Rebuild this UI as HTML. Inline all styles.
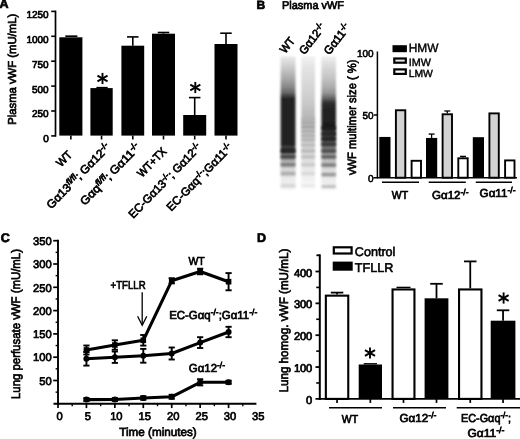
<!DOCTYPE html>
<html><head><meta charset="utf-8"><title>Figure</title>
<style>
html,body{margin:0;padding:0;background:#fff;}
body{width:520px;height:439px;overflow:hidden;font-family:"Liberation Sans",sans-serif;}
svg{display:block;font-family:"Liberation Sans",sans-serif;filter:grayscale(1) blur(0.3px);}
text{fill:#000;text-rendering:geometricPrecision;}
</style></head><body>
<svg width="520" height="439" viewBox="0 0 520 439">
<defs>
<filter id="bl" x="-20%" y="-20%" width="140%" height="140%"><feGaussianBlur stdDeviation="1.1 1.0"/></filter>
<filter id="bl2" x="-20%" y="-5%" width="140%" height="110%"><feGaussianBlur stdDeviation="1.1 0.6"/></filter>
</defs>
<rect width="520" height="439" fill="#fff"/>

<g id="panelA">
<text x="-0.6" y="8.3" font-size="12.5" text-anchor="start" font-weight="bold" stroke="#000" stroke-width="0.7">A</text>
<line x1="55.50" y1="10.60" x2="55.50" y2="136.70" stroke="#000" stroke-width="1.7" stroke-linecap="butt"/>
<line x1="51.20" y1="135.90" x2="55.50" y2="135.90" stroke="#000" stroke-width="1.6" stroke-linecap="butt"/>
<text x="48.7" y="142.3" font-size="10" text-anchor="end" font-weight="normal" stroke="#000" stroke-width="0.7">0</text>
<line x1="51.20" y1="111.00" x2="55.50" y2="111.00" stroke="#000" stroke-width="1.6" stroke-linecap="butt"/>
<text x="48.7" y="117.4" font-size="10" text-anchor="end" font-weight="normal" stroke="#000" stroke-width="0.7">250</text>
<line x1="51.20" y1="86.10" x2="55.50" y2="86.10" stroke="#000" stroke-width="1.6" stroke-linecap="butt"/>
<text x="48.7" y="92.50000000000001" font-size="10" text-anchor="end" font-weight="normal" stroke="#000" stroke-width="0.7">500</text>
<line x1="51.20" y1="61.20" x2="55.50" y2="61.20" stroke="#000" stroke-width="1.6" stroke-linecap="butt"/>
<text x="48.7" y="67.60000000000002" font-size="10" text-anchor="end" font-weight="normal" stroke="#000" stroke-width="0.7">750</text>
<line x1="51.20" y1="36.30" x2="55.50" y2="36.30" stroke="#000" stroke-width="1.6" stroke-linecap="butt"/>
<text x="48.7" y="42.70000000000001" font-size="10" text-anchor="end" font-weight="normal" stroke="#000" stroke-width="0.7">1000</text>
<line x1="51.20" y1="11.40" x2="55.50" y2="11.40" stroke="#000" stroke-width="1.6" stroke-linecap="butt"/>
<text x="48.7" y="17.800000000000004" font-size="10" text-anchor="end" font-weight="normal" stroke="#000" stroke-width="0.7">1250</text>
<text transform="translate(16.2,69.3) rotate(-90)" font-size="11.5" text-anchor="middle" font-weight="normal" textLength="111" lengthAdjust="spacingAndGlyphs" stroke="#000" stroke-width="0.7">Plasma vWF  (mU/mL)</text>
<line x1="65.30" y1="36.20" x2="77.40" y2="36.20" stroke="#000" stroke-width="1.7" stroke-linecap="butt"/>
<rect x="59.30" y="37.30" width="23.10" height="98.30" fill="#000"/>
<line x1="70.85" y1="135.60" x2="70.85" y2="139.50" stroke="#000" stroke-width="1.6" stroke-linecap="butt"/>
<line x1="96.40" y1="87.70" x2="107.70" y2="87.70" stroke="#000" stroke-width="1.7" stroke-linecap="butt"/>
<rect x="90.40" y="88.10" width="22.30" height="47.50" fill="#000"/>
<line x1="101.55" y1="135.60" x2="101.55" y2="139.50" stroke="#000" stroke-width="1.6" stroke-linecap="butt"/>
<line x1="132.80" y1="45.70" x2="132.80" y2="36.90" stroke="#000" stroke-width="1.6" stroke-linecap="butt"/>
<line x1="127.05" y1="36.90" x2="138.55" y2="36.90" stroke="#000" stroke-width="1.6" stroke-linecap="butt"/>
<rect x="121.40" y="45.70" width="22.80" height="89.90" fill="#000"/>
<line x1="132.80" y1="135.60" x2="132.80" y2="139.50" stroke="#000" stroke-width="1.6" stroke-linecap="butt"/>
<line x1="163.50" y1="33.70" x2="163.50" y2="32.50" stroke="#000" stroke-width="1.6" stroke-linecap="butt"/>
<line x1="157.75" y1="32.50" x2="169.25" y2="32.50" stroke="#000" stroke-width="1.6" stroke-linecap="butt"/>
<rect x="152.00" y="33.70" width="23.00" height="101.90" fill="#000"/>
<line x1="163.50" y1="135.60" x2="163.50" y2="139.50" stroke="#000" stroke-width="1.6" stroke-linecap="butt"/>
<line x1="194.70" y1="115.00" x2="194.70" y2="97.60" stroke="#000" stroke-width="1.6" stroke-linecap="butt"/>
<line x1="188.95" y1="97.60" x2="200.45" y2="97.60" stroke="#000" stroke-width="1.6" stroke-linecap="butt"/>
<rect x="183.20" y="115.00" width="23.00" height="20.60" fill="#000"/>
<line x1="194.70" y1="135.60" x2="194.70" y2="139.50" stroke="#000" stroke-width="1.6" stroke-linecap="butt"/>
<line x1="226.00" y1="44.00" x2="226.00" y2="33.20" stroke="#000" stroke-width="1.6" stroke-linecap="butt"/>
<line x1="220.25" y1="33.20" x2="231.75" y2="33.20" stroke="#000" stroke-width="1.6" stroke-linecap="butt"/>
<rect x="214.50" y="44.00" width="23.00" height="91.60" fill="#000"/>
<line x1="226.00" y1="135.60" x2="226.00" y2="139.50" stroke="#000" stroke-width="1.6" stroke-linecap="butt"/>
<line x1="102.50" y1="72.90" x2="102.50" y2="84.10" stroke="#000" stroke-width="1.9" stroke-linecap="butt"/>
<line x1="97.46" y1="75.59" x2="107.54" y2="81.41" stroke="#000" stroke-width="1.9" stroke-linecap="butt"/>
<line x1="107.54" y1="75.59" x2="97.46" y2="81.41" stroke="#000" stroke-width="1.9" stroke-linecap="butt"/>
<line x1="195.30" y1="81.90" x2="195.30" y2="93.10" stroke="#000" stroke-width="1.9" stroke-linecap="butt"/>
<line x1="190.26" y1="84.59" x2="200.34" y2="90.41" stroke="#000" stroke-width="1.9" stroke-linecap="butt"/>
<line x1="200.34" y1="84.59" x2="190.26" y2="90.41" stroke="#000" stroke-width="1.9" stroke-linecap="butt"/>
<text transform="translate(61.1,167.6) rotate(-45.7)" font-size="11.5" text-anchor="start" font-weight="normal" textLength="16.9" lengthAdjust="spacingAndGlyphs" stroke="#000" stroke-width="0.7">WT</text>
<text transform="translate(51.14,209.55) rotate(-45.7)" font-size="11.5" text-anchor="start" font-weight="normal" textLength="86.0" lengthAdjust="spacingAndGlyphs" stroke="#000" stroke-width="0.7">Gα13<tspan dy="-3.80" font-size="8.51" font-style="italic">fl/fl</tspan><tspan dy="3.80">; Gα12</tspan><tspan dy="-3.80" font-size="8.51">-/-</tspan></text>
<text transform="translate(84.63,205.97) rotate(-45.7)" font-size="11.5" text-anchor="start" font-weight="normal" textLength="81.0" lengthAdjust="spacingAndGlyphs" stroke="#000" stroke-width="0.7">Gαq<tspan dy="-3.80" font-size="8.51" font-style="italic">fl/fl</tspan><tspan dy="3.80">; Gα11</tspan><tspan dy="-3.80" font-size="8.51">-/-</tspan></text>
<text transform="translate(141.99,178.04) rotate(-45.7)" font-size="11.5" text-anchor="start" font-weight="normal" textLength="36.1" lengthAdjust="spacingAndGlyphs" stroke="#000" stroke-width="0.7">WT+TX</text>
<text transform="translate(133.19,218.93) rotate(-45.7)" font-size="11.5" text-anchor="start" font-weight="normal" textLength="99.1" lengthAdjust="spacingAndGlyphs" stroke="#000" stroke-width="0.7">EC-Gα13<tspan dy="-3.80" font-size="8.51">-/-</tspan><tspan dy="3.80">; Gα12</tspan><tspan dy="-3.80" font-size="8.51">-/-</tspan></text>
<text transform="translate(171.24,211.8) rotate(-45.7)" font-size="11.5" text-anchor="start" font-weight="normal" textLength="89.0" lengthAdjust="spacingAndGlyphs" stroke="#000" stroke-width="0.7">EC-Gαq<tspan dy="-3.80" font-size="8.51">-/-</tspan><tspan dy="3.80">;Gα11</tspan><tspan dy="-3.80" font-size="8.51">-/-</tspan></text>
</g>
<g id="panelB">
<text x="256.5" y="8.8" font-size="12" text-anchor="start" font-weight="bold" stroke="#000" stroke-width="0.7">B</text>
<text x="282" y="9.3" font-size="11.3" text-anchor="start" font-weight="normal" textLength="62" lengthAdjust="spacingAndGlyphs" stroke="#000" stroke-width="0.7">Plasma vWF</text>
<defs>
<linearGradient id="L1" gradientUnits="userSpaceOnUse" x1="0" y1="55" x2="0" y2="192"><stop offset="0.0000" stop-color="#ffffff"/><stop offset="0.0219" stop-color="#e6e6e6"/><stop offset="0.0876" stop-color="#cccccc"/><stop offset="0.1679" stop-color="#aaaaaa"/><stop offset="0.2263" stop-color="#8c8c8c"/><stop offset="0.2737" stop-color="#686868"/><stop offset="0.3029" stop-color="#3a3a3a"/><stop offset="0.3212" stop-color="#222222"/><stop offset="0.6496" stop-color="#202020"/><stop offset="0.6730" stop-color="#404040"/><stop offset="0.6861" stop-color="#363636"/><stop offset="0.7219" stop-color="#6c6c6c"/><stop offset="0.7701" stop-color="#a8a8a8"/><stop offset="0.8321" stop-color="#d4d4d4"/><stop offset="0.9051" stop-color="#eaeaea"/><stop offset="0.9562" stop-color="#f2f2f2"/><stop offset="1.0000" stop-color="#ffffff"/></linearGradient>
<linearGradient id="L2" gradientUnits="userSpaceOnUse" x1="0" y1="55" x2="0" y2="192"><stop offset="0.0000" stop-color="#ffffff"/><stop offset="0.0219" stop-color="#f0f0f0"/><stop offset="0.0876" stop-color="#e4e4e4"/><stop offset="0.2117" stop-color="#d8d8d8"/><stop offset="0.3285" stop-color="#cccccc"/><stop offset="0.4015" stop-color="#c0c0c0"/><stop offset="0.4599" stop-color="#b6b6b6"/><stop offset="0.5036" stop-color="#b8b8b8"/><stop offset="0.5839" stop-color="#c4c4c4"/><stop offset="0.6934" stop-color="#d4d4d4"/><stop offset="0.8029" stop-color="#e4e4e4"/><stop offset="0.9124" stop-color="#f2f2f2"/><stop offset="1.0000" stop-color="#ffffff"/></linearGradient>
<linearGradient id="L3" gradientUnits="userSpaceOnUse" x1="0" y1="55" x2="0" y2="192"><stop offset="0.0000" stop-color="#ffffff"/><stop offset="0.0219" stop-color="#ececec"/><stop offset="0.0876" stop-color="#d8d8d8"/><stop offset="0.1679" stop-color="#c4c4c4"/><stop offset="0.2263" stop-color="#b0b0b0"/><stop offset="0.2774" stop-color="#949494"/><stop offset="0.3139" stop-color="#666666"/><stop offset="0.3431" stop-color="#383838"/><stop offset="0.3650" stop-color="#262626"/><stop offset="0.5182" stop-color="#1e1e1e"/><stop offset="0.5547" stop-color="#2c2c2c"/><stop offset="0.5949" stop-color="#383838"/><stop offset="0.6321" stop-color="#4c4c4c"/><stop offset="0.6759" stop-color="#707070"/><stop offset="0.7226" stop-color="#989898"/><stop offset="0.7701" stop-color="#bcbcbc"/><stop offset="0.8394" stop-color="#dadada"/><stop offset="0.9124" stop-color="#ececec"/><stop offset="0.9708" stop-color="#f2f2f2"/><stop offset="1.0000" stop-color="#ffffff"/></linearGradient>
</defs>
<g filter="url(#bl2)">
<rect x="280.60" y="55.00" width="14.90" height="137.00" fill="url(#L1)"/>
<rect x="301.30" y="55.00" width="13.70" height="137.00" fill="url(#L2)"/>
<rect x="321.40" y="55.00" width="14.60" height="137.00" fill="url(#L3)"/>
</g>
<g filter="url(#bl)">
<rect x="280.80" y="149.50" width="14.50" height="3.00" fill="#1c1c1c"/>
<rect x="280.80" y="155.40" width="14.50" height="3.00" fill="#3c3c3c"/>
<rect x="280.80" y="163.00" width="14.50" height="3.40" fill="#7a7a7a"/>
<rect x="280.80" y="171.80" width="14.50" height="3.60" fill="#acacac"/>
<rect x="280.80" y="183.70" width="14.50" height="4.00" fill="#d8d8d8"/>
<rect x="301.50" y="118.20" width="13.30" height="1.60" fill="#b0b0b0"/>
<rect x="301.50" y="121.70" width="13.30" height="1.80" fill="#a4a4a4"/>
<rect x="301.50" y="125.80" width="13.30" height="2.00" fill="#9c9c9c"/>
<rect x="301.50" y="130.20" width="13.30" height="2.00" fill="#a6a6a6"/>
<rect x="301.50" y="134.70" width="13.30" height="2.00" fill="#aaaaaa"/>
<rect x="301.50" y="138.70" width="13.30" height="2.20" fill="#b0b0b0"/>
<rect x="301.50" y="143.80" width="13.30" height="2.40" fill="#b8b8b8"/>
<rect x="301.50" y="149.70" width="13.30" height="2.60" fill="#b2b2b2"/>
<rect x="301.50" y="155.60" width="13.30" height="2.60" fill="#bababa"/>
<rect x="301.50" y="163.30" width="13.30" height="2.80" fill="#c6c6c6"/>
<rect x="301.50" y="172.20" width="13.30" height="2.80" fill="#d6d6d6"/>
<rect x="301.50" y="184.20" width="13.30" height="3.00" fill="#e8e8e8"/>
<rect x="321.60" y="126.70" width="14.20" height="2.60" fill="#1a1a1a"/>
<rect x="321.60" y="132.60" width="14.20" height="2.60" fill="#202020"/>
<rect x="321.60" y="137.70" width="14.20" height="2.60" fill="#1e1e1e"/>
<rect x="321.60" y="143.00" width="14.20" height="2.60" fill="#303030"/>
<rect x="321.60" y="149.60" width="14.20" height="2.80" fill="#424242"/>
<rect x="321.60" y="155.50" width="14.20" height="2.80" fill="#545454"/>
<rect x="321.60" y="163.40" width="14.20" height="3.20" fill="#767676"/>
<rect x="321.60" y="172.90" width="14.20" height="3.40" fill="#969696"/>
<rect x="321.60" y="185.40" width="14.20" height="2.20" fill="#b0b0b0"/>
</g>
<text transform="translate(285.3,54) rotate(-52)" font-size="11.5" text-anchor="start" font-weight="normal" textLength="16.3" lengthAdjust="spacingAndGlyphs" stroke="#000" stroke-width="0.7">WT</text>
<text transform="translate(304.4,55.2) rotate(-52)" font-size="11.5" text-anchor="start" font-weight="normal" textLength="35.5" lengthAdjust="spacingAndGlyphs" stroke="#000" stroke-width="0.7">Gα12<tspan dy="-3.80" font-size="8.51">-/-</tspan></text>
<text transform="translate(329.2,55.4) rotate(-52)" font-size="11.5" text-anchor="start" font-weight="normal" textLength="35.5" lengthAdjust="spacingAndGlyphs" stroke="#000" stroke-width="0.7">Gα11<tspan dy="-3.80" font-size="8.51">-/-</tspan></text>
<line x1="377.40" y1="51.50" x2="377.40" y2="178.40" stroke="#000" stroke-width="1.5" stroke-linecap="butt"/>
<line x1="373.40" y1="177.70" x2="517.00" y2="177.70" stroke="#000" stroke-width="1.6" stroke-linecap="butt"/>
<text x="373.59999999999997" y="182.1" font-size="10" text-anchor="end" font-weight="normal" stroke="#000" stroke-width="0.6">0</text>
<line x1="373.90" y1="115.00" x2="377.40" y2="115.00" stroke="#000" stroke-width="1.5" stroke-linecap="butt"/>
<text x="373.59999999999997" y="119.39999999999999" font-size="10" text-anchor="end" font-weight="normal" stroke="#000" stroke-width="0.6">50</text>
<text x="373.59999999999997" y="56.69999999999998" font-size="10" text-anchor="end" font-weight="normal" stroke="#000" stroke-width="0.6">100</text>
<text transform="translate(356.2,117.3) rotate(-90)" font-size="12" text-anchor="middle" font-weight="normal" textLength="115.5" lengthAdjust="spacingAndGlyphs" stroke="#000" stroke-width="0.7">vWF multimer size ( %)</text>
<rect x="392.50" y="45.20" width="14.40" height="7.00" fill="#000"/>
<rect x="394.30" y="58.50" width="11.50" height="4.20" fill="#e8e8e8" stroke="#000" stroke-width="2.2"/>
<rect x="394.30" y="69.40" width="11.50" height="4.50" fill="#fff" stroke="#000" stroke-width="2.2"/>
<text x="408.7" y="52.2" font-size="11.9" text-anchor="start" font-weight="normal" stroke="#000" stroke-width="0.4">HMW</text>
<text x="408.7" y="65.6" font-size="10.8" text-anchor="start" font-weight="normal" stroke="#000" stroke-width="0.4">IMW</text>
<text x="408.7" y="77.2" font-size="10.4" text-anchor="start" font-weight="normal" stroke="#000" stroke-width="0.4">LMW</text>
<rect x="379.30" y="136.94" width="11.20" height="40.75" fill="#000"/>
<rect x="395.90" y="110.26" width="9.40" height="67.44" fill="#d3d3d3" stroke="#000" stroke-width="1.9"/>
<rect x="411.60" y="160.79" width="9.40" height="16.91" fill="#fff" stroke="#000" stroke-width="1.9"/>
<line x1="431.60" y1="137.95" x2="431.60" y2="134.06" stroke="#000" stroke-width="1.3" stroke-linecap="butt"/>
<line x1="428.60" y1="134.06" x2="434.60" y2="134.06" stroke="#000" stroke-width="1.3" stroke-linecap="butt"/>
<rect x="426.00" y="137.95" width="11.20" height="39.75" fill="#000"/>
<line x1="447.30" y1="113.37" x2="447.30" y2="110.99" stroke="#000" stroke-width="1.3" stroke-linecap="butt"/>
<line x1="444.30" y1="110.99" x2="450.30" y2="110.99" stroke="#000" stroke-width="1.3" stroke-linecap="butt"/>
<rect x="442.60" y="114.27" width="9.40" height="63.43" fill="#d3d3d3" stroke="#000" stroke-width="1.9"/>
<line x1="463.00" y1="157.39" x2="463.00" y2="156.38" stroke="#000" stroke-width="1.3" stroke-linecap="butt"/>
<line x1="460.00" y1="156.38" x2="466.00" y2="156.38" stroke="#000" stroke-width="1.3" stroke-linecap="butt"/>
<rect x="458.30" y="158.29" width="9.40" height="19.41" fill="#fff" stroke="#000" stroke-width="1.9"/>
<rect x="472.80" y="137.20" width="11.20" height="40.50" fill="#000"/>
<rect x="489.40" y="113.39" width="9.40" height="64.31" fill="#d3d3d3" stroke="#000" stroke-width="1.9"/>
<rect x="505.10" y="160.42" width="9.40" height="17.28" fill="#fff" stroke="#000" stroke-width="1.9"/>
<line x1="382.00" y1="182.20" x2="419.00" y2="182.20" stroke="#000" stroke-width="1.4" stroke-linecap="butt"/>
<line x1="428.70" y1="182.20" x2="465.80" y2="182.20" stroke="#000" stroke-width="1.4" stroke-linecap="butt"/>
<line x1="475.80" y1="182.20" x2="512.00" y2="182.20" stroke="#000" stroke-width="1.4" stroke-linecap="butt"/>
<text x="400" y="198.5" font-size="11.5" text-anchor="middle" font-weight="normal" textLength="16.3" lengthAdjust="spacingAndGlyphs" stroke="#000" stroke-width="0.7">WT</text>
<text x="432" y="198.5" font-size="11.5" text-anchor="start" font-weight="normal" textLength="36.5" lengthAdjust="spacingAndGlyphs" stroke="#000" stroke-width="0.7">Gα12<tspan dy="-3.80" font-size="8.51">-/-</tspan></text>
<text x="479.6" y="196.5" font-size="11.5" text-anchor="start" font-weight="normal" textLength="36" lengthAdjust="spacingAndGlyphs" stroke="#000" stroke-width="0.7">Gα11<tspan dy="-3.80" font-size="8.51">-/-</tspan></text>
</g>
<g id="panelC">
<text x="0.8" y="242.2" font-size="12.5" text-anchor="start" font-weight="bold" stroke="#000" stroke-width="0.7">C</text>
<line x1="58.00" y1="239.80" x2="58.00" y2="404.80" stroke="#000" stroke-width="1.9" stroke-linecap="butt"/>
<line x1="53.50" y1="403.80" x2="256.40" y2="403.80" stroke="#000" stroke-width="1.9" stroke-linecap="butt"/>
<line x1="53.20" y1="380.50" x2="58.00" y2="380.50" stroke="#000" stroke-width="1.7" stroke-linecap="butt"/>
<text x="51.7" y="384.7" font-size="11.2" text-anchor="end" font-weight="normal" stroke="#000" stroke-width="0.7">50</text>
<line x1="53.20" y1="357.20" x2="58.00" y2="357.20" stroke="#000" stroke-width="1.7" stroke-linecap="butt"/>
<text x="51.7" y="361.4" font-size="11.2" text-anchor="end" font-weight="normal" stroke="#000" stroke-width="0.7">100</text>
<line x1="53.20" y1="333.90" x2="58.00" y2="333.90" stroke="#000" stroke-width="1.7" stroke-linecap="butt"/>
<text x="51.7" y="338.09999999999997" font-size="11.2" text-anchor="end" font-weight="normal" stroke="#000" stroke-width="0.7">150</text>
<line x1="53.20" y1="310.60" x2="58.00" y2="310.60" stroke="#000" stroke-width="1.7" stroke-linecap="butt"/>
<text x="51.7" y="314.8" font-size="11.2" text-anchor="end" font-weight="normal" stroke="#000" stroke-width="0.7">200</text>
<line x1="53.20" y1="287.30" x2="58.00" y2="287.30" stroke="#000" stroke-width="1.7" stroke-linecap="butt"/>
<text x="51.7" y="291.5" font-size="11.2" text-anchor="end" font-weight="normal" stroke="#000" stroke-width="0.7">250</text>
<line x1="53.20" y1="264.00" x2="58.00" y2="264.00" stroke="#000" stroke-width="1.7" stroke-linecap="butt"/>
<text x="51.7" y="268.2" font-size="11.2" text-anchor="end" font-weight="normal" stroke="#000" stroke-width="0.7">300</text>
<line x1="53.20" y1="240.70" x2="58.00" y2="240.70" stroke="#000" stroke-width="1.7" stroke-linecap="butt"/>
<text x="51.7" y="244.89999999999998" font-size="11.2" text-anchor="end" font-weight="normal" stroke="#000" stroke-width="0.7">350</text>
<line x1="55.60" y1="392.15" x2="58.00" y2="392.15" stroke="#000" stroke-width="1.4" stroke-linecap="butt"/>
<line x1="55.60" y1="368.85" x2="58.00" y2="368.85" stroke="#000" stroke-width="1.4" stroke-linecap="butt"/>
<line x1="55.60" y1="345.55" x2="58.00" y2="345.55" stroke="#000" stroke-width="1.4" stroke-linecap="butt"/>
<line x1="55.60" y1="322.25" x2="58.00" y2="322.25" stroke="#000" stroke-width="1.4" stroke-linecap="butt"/>
<line x1="55.60" y1="298.95" x2="58.00" y2="298.95" stroke="#000" stroke-width="1.4" stroke-linecap="butt"/>
<line x1="55.60" y1="275.65" x2="58.00" y2="275.65" stroke="#000" stroke-width="1.4" stroke-linecap="butt"/>
<line x1="55.60" y1="252.35" x2="58.00" y2="252.35" stroke="#000" stroke-width="1.4" stroke-linecap="butt"/>
<line x1="58.00" y1="403.80" x2="58.00" y2="408.10" stroke="#000" stroke-width="1.7" stroke-linecap="butt"/>
<text x="59.5" y="420.4" font-size="11.2" text-anchor="middle" font-weight="normal" stroke="#000" stroke-width="0.7">0</text>
<line x1="86.43" y1="403.80" x2="86.43" y2="408.10" stroke="#000" stroke-width="1.7" stroke-linecap="butt"/>
<text x="87.93" y="420.4" font-size="11.2" text-anchor="middle" font-weight="normal" stroke="#000" stroke-width="0.7">5</text>
<line x1="114.86" y1="403.80" x2="114.86" y2="408.10" stroke="#000" stroke-width="1.7" stroke-linecap="butt"/>
<text x="116.36" y="420.4" font-size="11.2" text-anchor="middle" font-weight="normal" stroke="#000" stroke-width="0.7">10</text>
<line x1="143.29" y1="403.80" x2="143.29" y2="408.10" stroke="#000" stroke-width="1.7" stroke-linecap="butt"/>
<text x="144.79" y="420.4" font-size="11.2" text-anchor="middle" font-weight="normal" stroke="#000" stroke-width="0.7">15</text>
<line x1="171.72" y1="403.80" x2="171.72" y2="408.10" stroke="#000" stroke-width="1.7" stroke-linecap="butt"/>
<text x="173.22" y="420.4" font-size="11.2" text-anchor="middle" font-weight="normal" stroke="#000" stroke-width="0.7">20</text>
<line x1="200.15" y1="403.80" x2="200.15" y2="408.10" stroke="#000" stroke-width="1.7" stroke-linecap="butt"/>
<text x="201.65" y="420.4" font-size="11.2" text-anchor="middle" font-weight="normal" stroke="#000" stroke-width="0.7">25</text>
<line x1="228.58" y1="403.80" x2="228.58" y2="408.10" stroke="#000" stroke-width="1.7" stroke-linecap="butt"/>
<text x="230.07999999999998" y="420.4" font-size="11.2" text-anchor="middle" font-weight="normal" stroke="#000" stroke-width="0.7">30</text>
<text x="258.3" y="420.4" font-size="11.2" text-anchor="middle" font-weight="normal" stroke="#000" stroke-width="0.7">35</text>
<line x1="72.22" y1="403.80" x2="72.22" y2="406.20" stroke="#000" stroke-width="1.4" stroke-linecap="butt"/>
<line x1="100.64" y1="403.80" x2="100.64" y2="406.20" stroke="#000" stroke-width="1.4" stroke-linecap="butt"/>
<line x1="129.07" y1="403.80" x2="129.07" y2="406.20" stroke="#000" stroke-width="1.4" stroke-linecap="butt"/>
<line x1="157.50" y1="403.80" x2="157.50" y2="406.20" stroke="#000" stroke-width="1.4" stroke-linecap="butt"/>
<line x1="185.94" y1="403.80" x2="185.94" y2="406.20" stroke="#000" stroke-width="1.4" stroke-linecap="butt"/>
<line x1="214.37" y1="403.80" x2="214.37" y2="406.20" stroke="#000" stroke-width="1.4" stroke-linecap="butt"/>
<line x1="242.79" y1="403.80" x2="242.79" y2="406.20" stroke="#000" stroke-width="1.4" stroke-linecap="butt"/>
<text x="158" y="436.4" font-size="11.8" text-anchor="middle" font-weight="normal" textLength="77.5" lengthAdjust="spacingAndGlyphs" stroke="#000" stroke-width="0.7">Time (minutes)</text>
<text transform="translate(20,324) rotate(-90)" font-size="12.3" text-anchor="middle" font-weight="normal" textLength="150" lengthAdjust="spacingAndGlyphs" stroke="#000" stroke-width="0.7">Lung perfusate vWF (mU/mL)</text>
<polyline points="86.4,350.0 114.9,345.0 143.3,340.3 171.7,280.8 200.2,271.5 228.6,281.7" fill="none" stroke="#000" stroke-width="3.1" stroke-linejoin="round"/>
<line x1="86.43" y1="345.50" x2="86.43" y2="354.50" stroke="#000" stroke-width="1.9" stroke-linecap="butt"/>
<line x1="83.33" y1="345.50" x2="89.53" y2="345.50" stroke="#000" stroke-width="1.9" stroke-linecap="butt"/>
<line x1="83.33" y1="354.50" x2="89.53" y2="354.50" stroke="#000" stroke-width="1.9" stroke-linecap="butt"/>
<rect x="83.63" y="347.20" width="5.60" height="5.60" fill="#000"/>
<line x1="114.86" y1="340.30" x2="114.86" y2="349.70" stroke="#000" stroke-width="1.9" stroke-linecap="butt"/>
<line x1="111.76" y1="340.30" x2="117.96" y2="340.30" stroke="#000" stroke-width="1.9" stroke-linecap="butt"/>
<line x1="111.76" y1="349.70" x2="117.96" y2="349.70" stroke="#000" stroke-width="1.9" stroke-linecap="butt"/>
<rect x="112.06" y="342.20" width="5.60" height="5.60" fill="#000"/>
<line x1="143.29" y1="335.00" x2="143.29" y2="345.60" stroke="#000" stroke-width="1.9" stroke-linecap="butt"/>
<line x1="140.19" y1="335.00" x2="146.39" y2="335.00" stroke="#000" stroke-width="1.9" stroke-linecap="butt"/>
<line x1="140.19" y1="345.60" x2="146.39" y2="345.60" stroke="#000" stroke-width="1.9" stroke-linecap="butt"/>
<rect x="140.49" y="337.50" width="5.60" height="5.60" fill="#000"/>
<line x1="171.72" y1="278.20" x2="171.72" y2="283.40" stroke="#000" stroke-width="1.9" stroke-linecap="butt"/>
<line x1="168.62" y1="278.20" x2="174.82" y2="278.20" stroke="#000" stroke-width="1.9" stroke-linecap="butt"/>
<line x1="168.62" y1="283.40" x2="174.82" y2="283.40" stroke="#000" stroke-width="1.9" stroke-linecap="butt"/>
<rect x="168.92" y="278.00" width="5.60" height="5.60" fill="#000"/>
<line x1="200.15" y1="268.70" x2="200.15" y2="274.30" stroke="#000" stroke-width="1.9" stroke-linecap="butt"/>
<line x1="197.05" y1="268.70" x2="203.25" y2="268.70" stroke="#000" stroke-width="1.9" stroke-linecap="butt"/>
<line x1="197.05" y1="274.30" x2="203.25" y2="274.30" stroke="#000" stroke-width="1.9" stroke-linecap="butt"/>
<rect x="197.35" y="268.70" width="5.60" height="5.60" fill="#000"/>
<line x1="228.58" y1="273.10" x2="228.58" y2="290.30" stroke="#000" stroke-width="1.9" stroke-linecap="butt"/>
<line x1="225.48" y1="273.10" x2="231.68" y2="273.10" stroke="#000" stroke-width="1.9" stroke-linecap="butt"/>
<line x1="225.48" y1="290.30" x2="231.68" y2="290.30" stroke="#000" stroke-width="1.9" stroke-linecap="butt"/>
<rect x="225.78" y="278.90" width="5.60" height="5.60" fill="#000"/>
<polyline points="86.4,358.8 114.9,357.2 143.3,355.8 171.7,353.5 200.2,342.6 228.6,332.0" fill="none" stroke="#000" stroke-width="3.1" stroke-linejoin="round"/>
<line x1="86.43" y1="352.00" x2="86.43" y2="365.60" stroke="#000" stroke-width="1.9" stroke-linecap="butt"/>
<line x1="83.33" y1="352.00" x2="89.53" y2="352.00" stroke="#000" stroke-width="1.9" stroke-linecap="butt"/>
<line x1="83.33" y1="365.60" x2="89.53" y2="365.60" stroke="#000" stroke-width="1.9" stroke-linecap="butt"/>
<circle cx="86.4" cy="358.8" r="3" fill="#000"/>
<line x1="114.86" y1="351.50" x2="114.86" y2="362.90" stroke="#000" stroke-width="1.9" stroke-linecap="butt"/>
<line x1="111.76" y1="351.50" x2="117.96" y2="351.50" stroke="#000" stroke-width="1.9" stroke-linecap="butt"/>
<line x1="111.76" y1="362.90" x2="117.96" y2="362.90" stroke="#000" stroke-width="1.9" stroke-linecap="butt"/>
<circle cx="114.9" cy="357.2" r="3" fill="#000"/>
<line x1="143.29" y1="348.90" x2="143.29" y2="362.70" stroke="#000" stroke-width="1.9" stroke-linecap="butt"/>
<line x1="140.19" y1="348.90" x2="146.39" y2="348.90" stroke="#000" stroke-width="1.9" stroke-linecap="butt"/>
<line x1="140.19" y1="362.70" x2="146.39" y2="362.70" stroke="#000" stroke-width="1.9" stroke-linecap="butt"/>
<circle cx="143.3" cy="355.8" r="3" fill="#000"/>
<line x1="171.72" y1="347.50" x2="171.72" y2="359.50" stroke="#000" stroke-width="1.9" stroke-linecap="butt"/>
<line x1="168.62" y1="347.50" x2="174.82" y2="347.50" stroke="#000" stroke-width="1.9" stroke-linecap="butt"/>
<line x1="168.62" y1="359.50" x2="174.82" y2="359.50" stroke="#000" stroke-width="1.9" stroke-linecap="butt"/>
<circle cx="171.7" cy="353.5" r="3" fill="#000"/>
<line x1="200.15" y1="337.20" x2="200.15" y2="348.00" stroke="#000" stroke-width="1.9" stroke-linecap="butt"/>
<line x1="197.05" y1="337.20" x2="203.25" y2="337.20" stroke="#000" stroke-width="1.9" stroke-linecap="butt"/>
<line x1="197.05" y1="348.00" x2="203.25" y2="348.00" stroke="#000" stroke-width="1.9" stroke-linecap="butt"/>
<circle cx="200.2" cy="342.6" r="3" fill="#000"/>
<line x1="228.58" y1="326.80" x2="228.58" y2="337.20" stroke="#000" stroke-width="1.9" stroke-linecap="butt"/>
<line x1="225.48" y1="326.80" x2="231.68" y2="326.80" stroke="#000" stroke-width="1.9" stroke-linecap="butt"/>
<line x1="225.48" y1="337.20" x2="231.68" y2="337.20" stroke="#000" stroke-width="1.9" stroke-linecap="butt"/>
<circle cx="228.6" cy="332.0" r="3" fill="#000"/>
<polyline points="86.4,399.6 114.9,399.5 143.3,398.0 171.7,396.8 200.2,382.3 228.6,382.3" fill="none" stroke="#000" stroke-width="3.1" stroke-linejoin="round"/>
<line x1="86.43" y1="398.10" x2="86.43" y2="401.10" stroke="#000" stroke-width="1.9" stroke-linecap="butt"/>
<line x1="83.33" y1="398.10" x2="89.53" y2="398.10" stroke="#000" stroke-width="1.9" stroke-linecap="butt"/>
<line x1="83.33" y1="401.10" x2="89.53" y2="401.10" stroke="#000" stroke-width="1.9" stroke-linecap="butt"/>
<circle cx="86.4" cy="399.6" r="3" fill="#000"/>
<line x1="114.86" y1="398.00" x2="114.86" y2="401.00" stroke="#000" stroke-width="1.9" stroke-linecap="butt"/>
<line x1="111.76" y1="398.00" x2="117.96" y2="398.00" stroke="#000" stroke-width="1.9" stroke-linecap="butt"/>
<line x1="111.76" y1="401.00" x2="117.96" y2="401.00" stroke="#000" stroke-width="1.9" stroke-linecap="butt"/>
<circle cx="114.9" cy="399.5" r="3" fill="#000"/>
<line x1="143.29" y1="396.20" x2="143.29" y2="399.80" stroke="#000" stroke-width="1.9" stroke-linecap="butt"/>
<line x1="140.19" y1="396.20" x2="146.39" y2="396.20" stroke="#000" stroke-width="1.9" stroke-linecap="butt"/>
<line x1="140.19" y1="399.80" x2="146.39" y2="399.80" stroke="#000" stroke-width="1.9" stroke-linecap="butt"/>
<circle cx="143.3" cy="398.0" r="3" fill="#000"/>
<line x1="171.72" y1="394.80" x2="171.72" y2="398.80" stroke="#000" stroke-width="1.9" stroke-linecap="butt"/>
<line x1="168.62" y1="394.80" x2="174.82" y2="394.80" stroke="#000" stroke-width="1.9" stroke-linecap="butt"/>
<line x1="168.62" y1="398.80" x2="174.82" y2="398.80" stroke="#000" stroke-width="1.9" stroke-linecap="butt"/>
<circle cx="171.7" cy="396.8" r="3" fill="#000"/>
<line x1="200.15" y1="379.20" x2="200.15" y2="385.40" stroke="#000" stroke-width="1.9" stroke-linecap="butt"/>
<line x1="197.05" y1="379.20" x2="203.25" y2="379.20" stroke="#000" stroke-width="1.9" stroke-linecap="butt"/>
<line x1="197.05" y1="385.40" x2="203.25" y2="385.40" stroke="#000" stroke-width="1.9" stroke-linecap="butt"/>
<circle cx="200.2" cy="382.3" r="3" fill="#000"/>
<line x1="228.58" y1="380.70" x2="228.58" y2="383.90" stroke="#000" stroke-width="1.9" stroke-linecap="butt"/>
<line x1="225.48" y1="380.70" x2="231.68" y2="380.70" stroke="#000" stroke-width="1.9" stroke-linecap="butt"/>
<line x1="225.48" y1="383.90" x2="231.68" y2="383.90" stroke="#000" stroke-width="1.9" stroke-linecap="butt"/>
<circle cx="228.6" cy="382.3" r="3" fill="#000"/>
<text x="196.6" y="265.2" font-size="11.5" text-anchor="middle" font-weight="normal" textLength="16.3" lengthAdjust="spacingAndGlyphs" stroke="#000" stroke-width="0.7">WT</text>
<text x="110.6" y="289.2" font-size="11.5" text-anchor="start" font-weight="normal" textLength="35" lengthAdjust="spacingAndGlyphs" stroke="#000" stroke-width="0.7">+TFLLR</text>
<line x1="142.20" y1="292.30" x2="142.20" y2="324.50" stroke="#000" stroke-width="1.3" stroke-linecap="butt"/>
<polyline points="137.6,316.3 142.2,325.3 146.8,316.3" fill="none" stroke="#000" stroke-width="1.3"/>
<text x="169.2" y="319.2" font-size="11.5" text-anchor="start" font-weight="normal" textLength="88" lengthAdjust="spacingAndGlyphs" stroke="#000" stroke-width="0.7">EC-Gαq<tspan dy="-3.80" font-size="8.51">-/-</tspan><tspan dy="3.80">;Gα11</tspan><tspan dy="-3.80" font-size="8.51">-/-</tspan></text>
<text x="188.8" y="372" font-size="11.5" text-anchor="start" font-weight="normal" textLength="36.2" lengthAdjust="spacingAndGlyphs" stroke="#000" stroke-width="0.7">Gα12<tspan dy="-3.80" font-size="8.51">-/-</tspan></text>
</g>
<g id="panelD">
<text x="257" y="242.2" font-size="12.5" text-anchor="start" font-weight="bold" stroke="#000" stroke-width="0.7">D</text>
<line x1="319.80" y1="254.30" x2="319.80" y2="399.90" stroke="#000" stroke-width="2.0" stroke-linecap="butt"/>
<line x1="315.50" y1="398.90" x2="520.00" y2="398.90" stroke="#000" stroke-width="1.9" stroke-linecap="butt"/>
<line x1="316.40" y1="255.30" x2="319.80" y2="255.30" stroke="#000" stroke-width="1.8" stroke-linecap="butt"/>
<text x="311.9" y="403.9" font-size="11.2" text-anchor="end" font-weight="normal" stroke="#000" stroke-width="0.7" letter-spacing="-0.25">0</text>
<line x1="315.50" y1="367.05" x2="319.80" y2="367.05" stroke="#000" stroke-width="1.8" stroke-linecap="butt"/>
<text x="311.9" y="372.04999999999995" font-size="11.2" text-anchor="end" font-weight="normal" stroke="#000" stroke-width="0.7" letter-spacing="-0.25">100</text>
<line x1="315.50" y1="335.20" x2="319.80" y2="335.20" stroke="#000" stroke-width="1.8" stroke-linecap="butt"/>
<text x="311.9" y="340.2" font-size="11.2" text-anchor="end" font-weight="normal" stroke="#000" stroke-width="0.7" letter-spacing="-0.25">200</text>
<line x1="315.50" y1="303.35" x2="319.80" y2="303.35" stroke="#000" stroke-width="1.8" stroke-linecap="butt"/>
<text x="311.9" y="308.34999999999997" font-size="11.2" text-anchor="end" font-weight="normal" stroke="#000" stroke-width="0.7" letter-spacing="-0.25">300</text>
<line x1="315.50" y1="271.50" x2="319.80" y2="271.50" stroke="#000" stroke-width="1.8" stroke-linecap="butt"/>
<text x="311.9" y="276.5" font-size="11.2" text-anchor="end" font-weight="normal" stroke="#000" stroke-width="0.7" letter-spacing="-0.25">400</text>
<line x1="316.20" y1="382.97" x2="319.80" y2="382.97" stroke="#000" stroke-width="1.6" stroke-linecap="butt"/>
<line x1="316.20" y1="351.12" x2="319.80" y2="351.12" stroke="#000" stroke-width="1.6" stroke-linecap="butt"/>
<line x1="316.20" y1="319.27" x2="319.80" y2="319.27" stroke="#000" stroke-width="1.6" stroke-linecap="butt"/>
<line x1="316.20" y1="287.42" x2="319.80" y2="287.42" stroke="#000" stroke-width="1.6" stroke-linecap="butt"/>
<text transform="translate(287.6,320.6) rotate(-90)" font-size="12.3" text-anchor="middle" font-weight="normal" textLength="144" lengthAdjust="spacingAndGlyphs" stroke="#000" stroke-width="0.7">Lung homog. vWF  (mU/mL)</text>
<rect x="333.80" y="247.30" width="17.80" height="6.20" fill="#fff" stroke="#000" stroke-width="2.2"/>
<rect x="332.70" y="261.60" width="20.00" height="9.10" fill="#000"/>
<text x="354.8" y="255.6" font-size="12.6" text-anchor="start" font-weight="normal" stroke="#000" stroke-width="0.6">Control</text>
<text x="354.8" y="271.8" font-size="12.6" text-anchor="start" font-weight="normal" stroke="#000" stroke-width="0.6">TFLLR</text>
<line x1="337.05" y1="294.60" x2="337.05" y2="292.60" stroke="#000" stroke-width="1.8" stroke-linecap="butt"/>
<line x1="330.80" y1="292.60" x2="343.30" y2="292.60" stroke="#000" stroke-width="1.8" stroke-linecap="butt"/>
<rect x="325.85" y="295.65" width="22.40" height="103.25" fill="#fff" stroke="#000" stroke-width="2.1"/>
<line x1="337.05" y1="398.90" x2="337.05" y2="402.90" stroke="#000" stroke-width="1.7" stroke-linecap="butt"/>
<line x1="363.70" y1="363.80" x2="377.00" y2="363.80" stroke="#000" stroke-width="1.4" stroke-linecap="butt"/>
<rect x="358.70" y="364.50" width="23.30" height="34.40" fill="#000"/>
<line x1="370.35" y1="398.90" x2="370.35" y2="402.90" stroke="#000" stroke-width="1.7" stroke-linecap="butt"/>
<line x1="396.50" y1="287.40" x2="410.50" y2="287.40" stroke="#000" stroke-width="1.4" stroke-linecap="butt"/>
<rect x="392.55" y="289.45" width="21.90" height="109.45" fill="#fff" stroke="#000" stroke-width="2.1"/>
<line x1="403.50" y1="398.90" x2="403.50" y2="402.90" stroke="#000" stroke-width="1.7" stroke-linecap="butt"/>
<line x1="436.50" y1="298.30" x2="436.50" y2="283.80" stroke="#000" stroke-width="1.8" stroke-linecap="butt"/>
<line x1="430.25" y1="283.80" x2="442.75" y2="283.80" stroke="#000" stroke-width="1.8" stroke-linecap="butt"/>
<rect x="424.60" y="298.30" width="23.80" height="100.60" fill="#000"/>
<line x1="436.50" y1="398.90" x2="436.50" y2="402.90" stroke="#000" stroke-width="1.7" stroke-linecap="butt"/>
<line x1="470.25" y1="288.40" x2="470.25" y2="261.40" stroke="#000" stroke-width="1.8" stroke-linecap="butt"/>
<line x1="464.00" y1="261.40" x2="476.50" y2="261.40" stroke="#000" stroke-width="1.8" stroke-linecap="butt"/>
<rect x="459.05" y="289.45" width="22.40" height="109.45" fill="#fff" stroke="#000" stroke-width="2.1"/>
<line x1="470.25" y1="398.90" x2="470.25" y2="402.90" stroke="#000" stroke-width="1.7" stroke-linecap="butt"/>
<line x1="503.05" y1="320.70" x2="503.05" y2="310.30" stroke="#000" stroke-width="1.8" stroke-linecap="butt"/>
<line x1="496.80" y1="310.30" x2="509.30" y2="310.30" stroke="#000" stroke-width="1.8" stroke-linecap="butt"/>
<rect x="490.70" y="320.70" width="24.70" height="78.20" fill="#000"/>
<line x1="503.05" y1="398.90" x2="503.05" y2="402.90" stroke="#000" stroke-width="1.7" stroke-linecap="butt"/>
<line x1="370.00" y1="347.40" x2="370.00" y2="358.60" stroke="#000" stroke-width="1.9" stroke-linecap="butt"/>
<line x1="364.96" y1="350.09" x2="375.04" y2="355.91" stroke="#000" stroke-width="1.9" stroke-linecap="butt"/>
<line x1="375.04" y1="350.09" x2="364.96" y2="355.91" stroke="#000" stroke-width="1.9" stroke-linecap="butt"/>
<line x1="503.60" y1="292.40" x2="503.60" y2="303.60" stroke="#000" stroke-width="1.9" stroke-linecap="butt"/>
<line x1="498.56" y1="295.09" x2="508.64" y2="300.91" stroke="#000" stroke-width="1.9" stroke-linecap="butt"/>
<line x1="508.64" y1="295.09" x2="498.56" y2="300.91" stroke="#000" stroke-width="1.9" stroke-linecap="butt"/>
<line x1="329.00" y1="407.70" x2="382.00" y2="407.70" stroke="#000" stroke-width="1.5" stroke-linecap="butt"/>
<line x1="393.00" y1="407.70" x2="446.00" y2="407.70" stroke="#000" stroke-width="1.5" stroke-linecap="butt"/>
<line x1="456.70" y1="407.70" x2="520.00" y2="407.70" stroke="#000" stroke-width="1.5" stroke-linecap="butt"/>
<text x="350" y="423" font-size="11.5" text-anchor="middle" font-weight="normal" textLength="16.3" lengthAdjust="spacingAndGlyphs" stroke="#000" stroke-width="0.7">WT</text>
<text x="399.5" y="421.5" font-size="11.5" text-anchor="start" font-weight="normal" textLength="37" lengthAdjust="spacingAndGlyphs" stroke="#000" stroke-width="0.7">Gα12<tspan dy="-3.80" font-size="8.51">-/-</tspan></text>
<text x="461" y="421.5" font-size="11.5" text-anchor="start" font-weight="normal" textLength="50" lengthAdjust="spacingAndGlyphs" stroke="#000" stroke-width="0.7">EC-Gαq<tspan dy="-3.80" font-size="8.51">-/-</tspan><tspan dy="3.80">;</tspan></text>
<text x="467.5" y="436.5" font-size="11.5" text-anchor="start" font-weight="normal" textLength="37" lengthAdjust="spacingAndGlyphs" stroke="#000" stroke-width="0.7">Gα11<tspan dy="-3.80" font-size="8.51">-/-</tspan></text>
</g>
</svg>
</body></html>
